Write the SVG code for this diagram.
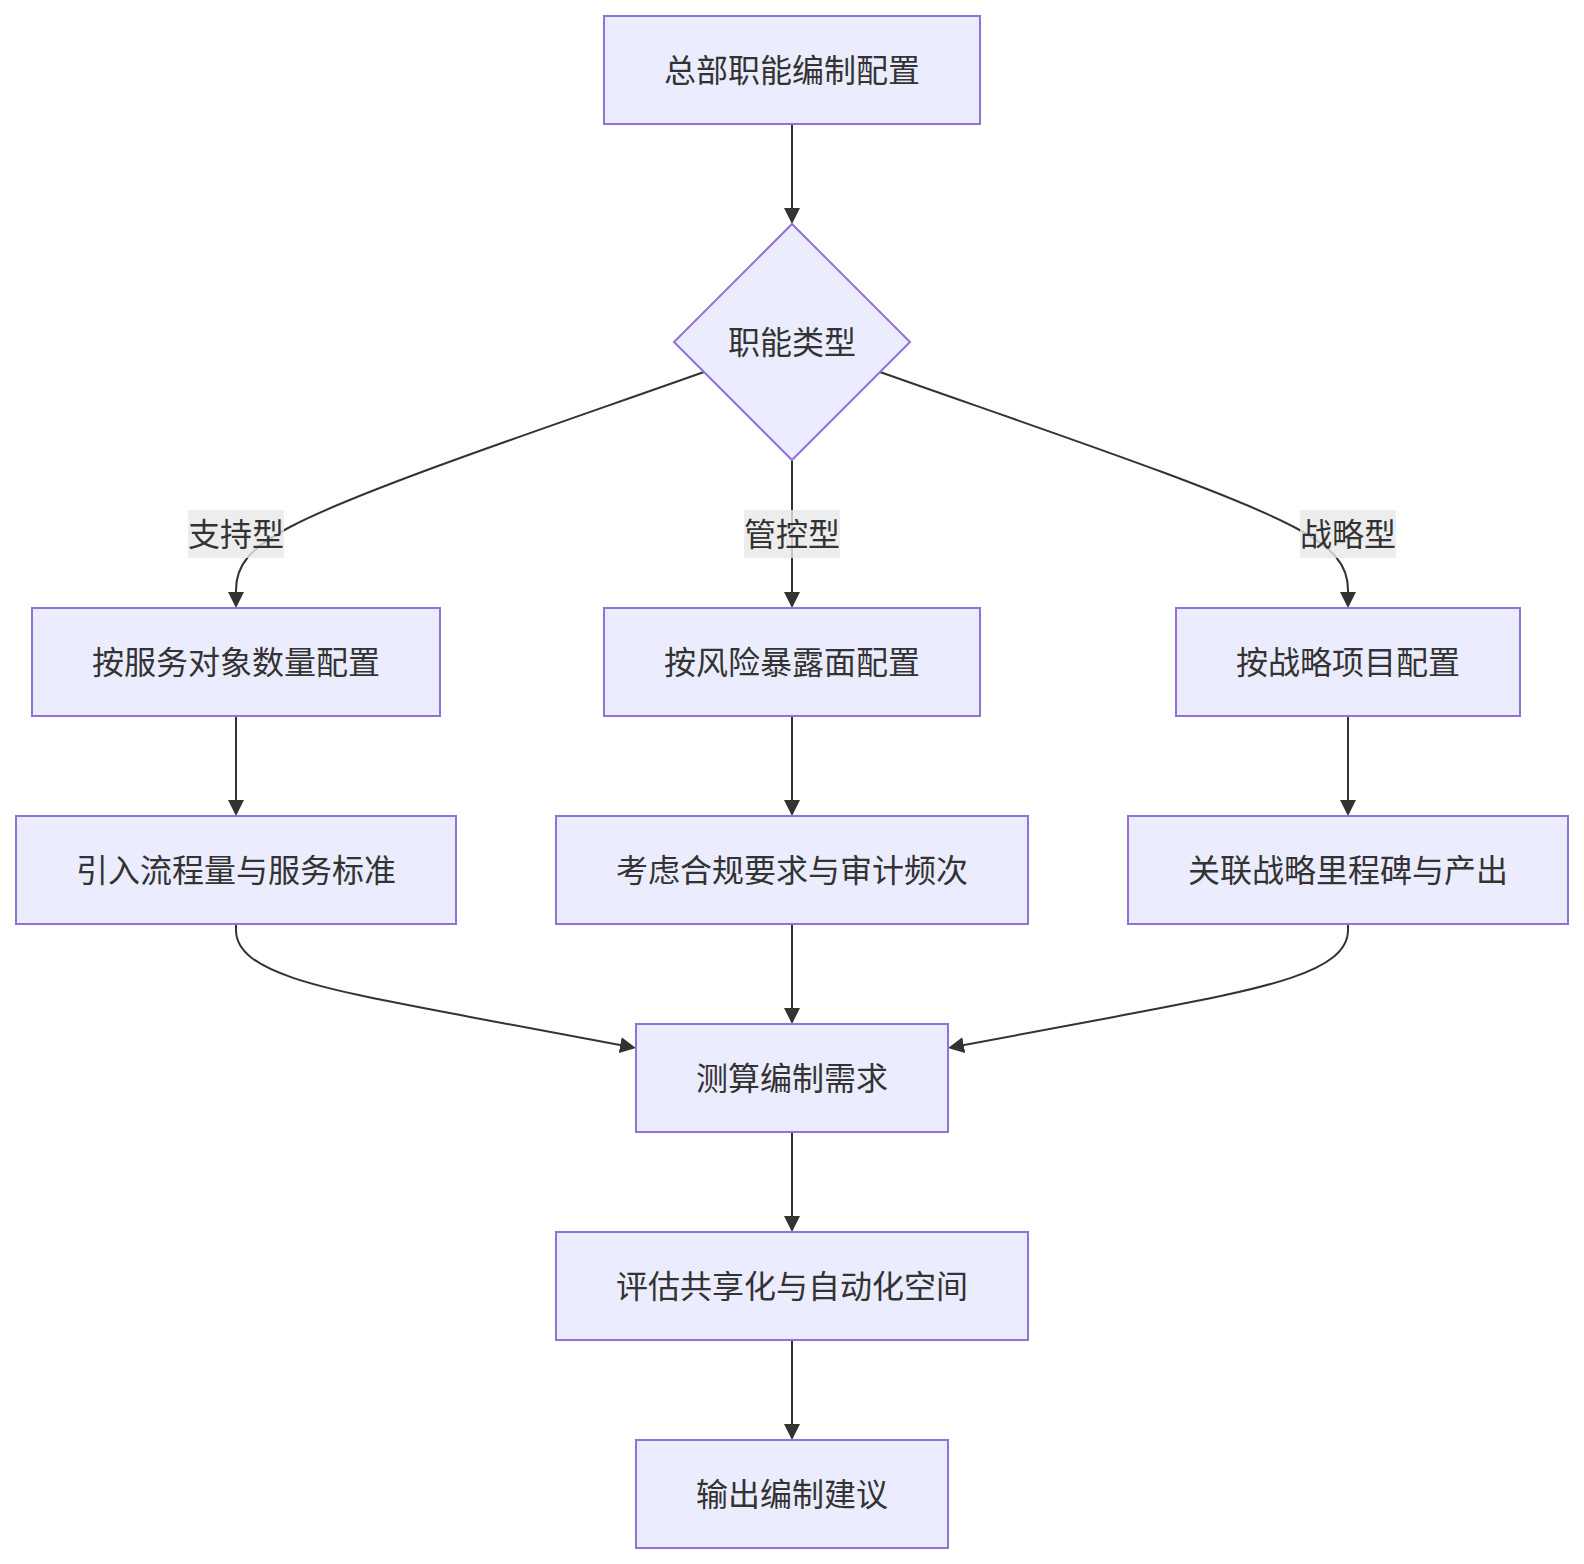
<svg xmlns="http://www.w3.org/2000/svg" width="1584" height="1564" viewBox="0 0 1584 1564">
<defs>
<style>
.node rect, .node polygon { fill: #ECECFF; stroke: #9370DB; stroke-width: 2; }
.node text, .elabel text { font-family: "Noto Sans CJK SC", "Liberation Sans", sans-serif; font-size: 32px; fill: #333333; text-anchor: middle; dominant-baseline: central; }
.edge { fill: none; stroke: #333333; stroke-width: 2; marker-end: url(#arrow); }
.elabel rect { fill: #e8e8e8; fill-opacity: 0.8; }
</style>
<marker id="arrow" viewBox="0 0 16 16" refX="12" refY="8" markerWidth="16" markerHeight="16" markerUnits="userSpaceOnUse" orient="auto">
<path d="M0,0 L16,8 L0,16 z" fill="#333333"/>
</marker>
</defs>
<rect width="1584" height="1564" fill="#ffffff"/>
<g id="edges">
<path class="edge" d="M792,124 V220"/>
<path class="edge" d="M704,372 C540,430 360,490 290,527 C250,548 236,565 236,590 L236,604"/>
<path class="edge" d="M792,460 V604"/>
<path class="edge" d="M880,372 C1044,430 1224,490 1294,527 C1334,548 1348,565 1348,590 L1348,604"/>
<path class="edge" d="M236,716 V812"/>
<path class="edge" d="M792,716 V812"/>
<path class="edge" d="M1348,716 V812"/>
<path class="edge" d="M236,924 V930 C236,975 330,990 470,1017 L632,1047.3"/>
<path class="edge" d="M792,924 V1020"/>
<path class="edge" d="M1348,924 V930 C1348,975 1254,990 1114,1017 L952,1047.3"/>
<path class="edge" d="M792,1132 V1228"/>
<path class="edge" d="M792,1340 V1436"/>
</g>
<g id="edge-labels">
<g class="elabel" id="label-support"><rect x="188" y="510" width="96" height="48"/><text x="236" y="532">支持型</text></g>
<g class="elabel" id="label-control"><rect x="744" y="510" width="96" height="48"/><text x="792" y="532">管控型</text></g>
<g class="elabel" id="label-strategy"><rect x="1300" y="510" width="96" height="48"/><text x="1348" y="532">战略型</text></g>
</g>
<g class="node" id="n-start"><rect x="604" y="16" width="376" height="108"/><text x="792" y="68">总部职能编制配置</text></g>
<g class="node" id="n-type"><polygon points="792,224 910,342 792,460 674,342"/><text x="792" y="340">职能类型</text></g>
<g class="node" id="n-s1"><rect x="32" y="608" width="408" height="108"/><text x="236" y="660">按服务对象数量配置</text></g>
<g class="node" id="n-c1"><rect x="604" y="608" width="376" height="108"/><text x="792" y="660">按风险暴露面配置</text></g>
<g class="node" id="n-t1"><rect x="1176" y="608" width="344" height="108"/><text x="1348" y="660">按战略项目配置</text></g>
<g class="node" id="n-s2"><rect x="16" y="816" width="440" height="108"/><text x="236" y="868">引入流程量与服务标准</text></g>
<g class="node" id="n-c2"><rect x="556" y="816" width="472" height="108"/><text x="792" y="868">考虑合规要求与审计频次</text></g>
<g class="node" id="n-t2"><rect x="1128" y="816" width="440" height="108"/><text x="1348" y="868">关联战略里程碑与产出</text></g>
<g class="node" id="n-calc"><rect x="636" y="1024" width="312" height="108"/><text x="792" y="1076">测算编制需求</text></g>
<g class="node" id="n-eval"><rect x="556" y="1232" width="472" height="108"/><text x="792" y="1284">评估共享化与自动化空间</text></g>
<g class="node" id="n-out"><rect x="636" y="1440" width="312" height="108"/><text x="792" y="1492">输出编制建议</text></g>
</svg>
